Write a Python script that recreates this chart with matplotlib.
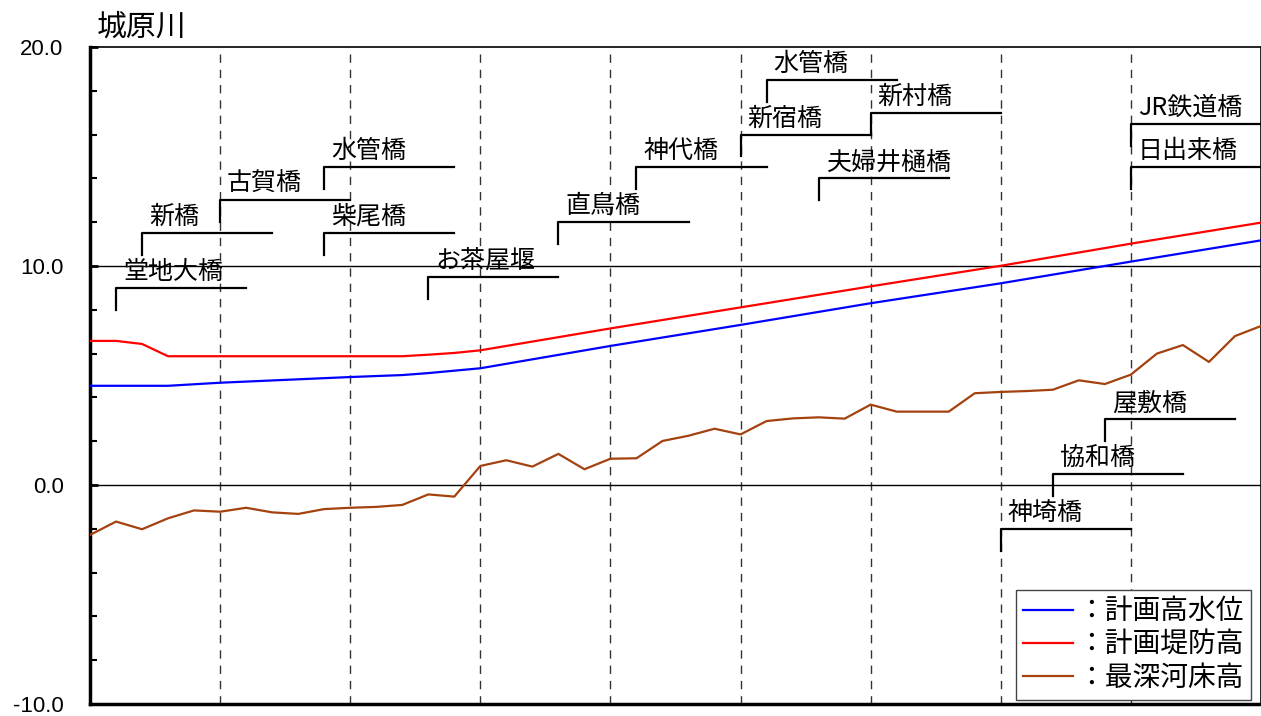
import matplotlib

matplotlib.use("Agg")
import matplotlib.pyplot as plt
from matplotlib.lines import Line2D
from matplotlib.ticker import MultipleLocator

plt.rcParams["font.family"] = ["Noto Sans CJK JP", "DejaVu Sans"]

# river profile data (distance in grid units, elevation in m)
dist = [0.0, 0.2, 0.4, 0.6, 0.8, 1.0, 1.2, 1.4, 1.6, 1.8,
        2.0, 2.2, 2.4, 2.6, 2.8, 3.0, 3.2, 3.4, 3.6, 3.8,
        4.0, 4.2, 4.4, 4.6, 4.8, 5.0, 5.2, 5.4, 5.6, 5.8,
        6.0, 6.2, 6.4, 6.6, 6.8, 7.0, 7.2, 7.4, 7.6, 7.8,
        8.0, 8.2, 8.4, 8.6, 8.8, 9.0]
bed = [-2.28, -1.67, -2.02, -1.52, -1.16, -1.22, -1.04, -1.25, -1.32, -1.10,
       -1.04, -1.00, -0.91, -0.43, -0.53, 0.87, 1.13, 0.84, 1.42, 0.72,
       1.20, 1.22, 2.01, 2.25, 2.57, 2.31, 2.92, 3.04, 3.09, 3.03,
       3.67, 3.35, 3.35, 3.35, 4.19, 4.25, 4.29, 4.35, 4.78, 4.61,
       5.04, 6.00, 6.39, 5.62, 6.80, 7.26]

levee_dist = [0.0, 0.2, 0.4, 0.6, 2.4, 2.6, 2.8, 3.0, 4.0, 5.0, 6.0, 7.0, 8.0, 9.0]
levee = [6.58, 6.58, 6.44, 5.88, 5.88, 5.95, 6.03, 6.15, 7.15, 8.11, 9.07, 10.01, 11.02, 11.98]

hwl_dist = [0.0, 0.6, 1.0, 2.0, 2.4, 2.6, 2.8, 3.0, 4.0, 5.0, 6.0, 7.0, 8.0, 9.0]
hwl = [4.53, 4.53, 4.67, 4.93, 5.02, 5.11, 5.22, 5.33, 6.35, 7.31, 8.30, 9.21, 10.20, 11.17]

bridges = ["堂地大橋", "新橋", "古賀橋", "水管橋", "柴尾橋", "お茶屋堰", "直鳥橋", "神代橋",
           "新宿橋", "水管橋", "新村橋", "夫婦井樋橋", "JR鉄道橋", "日出来橋", "屋敷橋",
           "協和橋", "神埼橋"]
bridge_x = [0.2, 0.4, 1.0, 1.8, 1.8, 2.6, 3.6, 4.2, 5.0, 5.2, 6.0, 5.6, 8.0, 8.0, 7.8, 7.4, 7.0]
label_y = [9.0, 11.5, 13.0, 14.5, 11.5, 9.5, 12.0, 14.5, 16.0, 18.5, 17.0, 14.0, 16.5, 14.5,
           3.0, 0.5, -2.0]

fig = plt.figure(figsize=(12.61, 7.16), dpi=100)
ax = fig.add_axes([90 / 1261, 12 / 716, 1171 / 1261, 657 / 716])

ax.plot(hwl_dist, hwl, color="#0000ff", lw=1.6, zorder=3)
ax.plot(levee_dist, levee, color="#ff0000", lw=1.6, zorder=3)
ax.plot(dist, bed, color="#a3420f", lw=1.6, zorder=3)

ax.set_xlim(0, 9)
ax.set_ylim(-10, 20)

# grid
for xv in range(1, 9):
    ax.axvline(xv, color="#333333", lw=1, dashes=(6, 5), zorder=1)
for yv in [0, 10]:
    ax.axhline(yv, color="black", lw=1, zorder=1)

# bridge brackets
for name, bx, ty in zip(bridges, bridge_x, label_y):
    ex = min(bx + 1.0, 9.0)
    ax.plot([bx, bx, ex], [ty - 1.0, ty, ty], color="black", lw=1.6, zorder=4)
    ax.annotate(name, xy=(bx, ty), xytext=(5, 6.5), textcoords="offset points",
                ha="left", va="baseline", fontsize=18, zorder=5)

ax.set_xticks([])
ax.yaxis.set_minor_locator(MultipleLocator(2))
ax.set_yticks([-10, 0, 10, 20])
ax.set_yticklabels(["-10.0", "0.0", "10.0", "20.0"], family="Liberation Sans", fontsize=16)
ax.tick_params(axis="y", which="major", direction="in", length=6, width=2, pad=19)
ax.tick_params(axis="y", which="minor", direction="in", length=5, width=1.5)

for side in ["left", "bottom"]:
    ax.spines[side].set_linewidth(2.5)
for side in ["top", "right"]:
    ax.spines[side].set_linewidth(1.2)

handles = [Line2D([], [], color="#0000ff", lw=1.6),
           Line2D([], [], color="#ff0000", lw=1.6),
           Line2D([], [], color="#a3420f", lw=1.6)]
leg = ax.legend(handles, ["：計画高水位", "：計画堤防高", "：最深河床高"],
                loc="lower right", bbox_to_anchor=(0.9915, 0.006), borderaxespad=0,
                fontsize=20, handlelength=1.8, handletextpad=0.15, labelspacing=0.12,
                fancybox=False, framealpha=1, edgecolor="#444444", borderpad=0.25)
leg.get_frame().set_linewidth(1.0)

fig.text(97 / 1261, 1 - 36 / 716, "城原川", fontsize=21.5, ha="left", va="baseline")

fig.savefig("out.png", dpi=100)
